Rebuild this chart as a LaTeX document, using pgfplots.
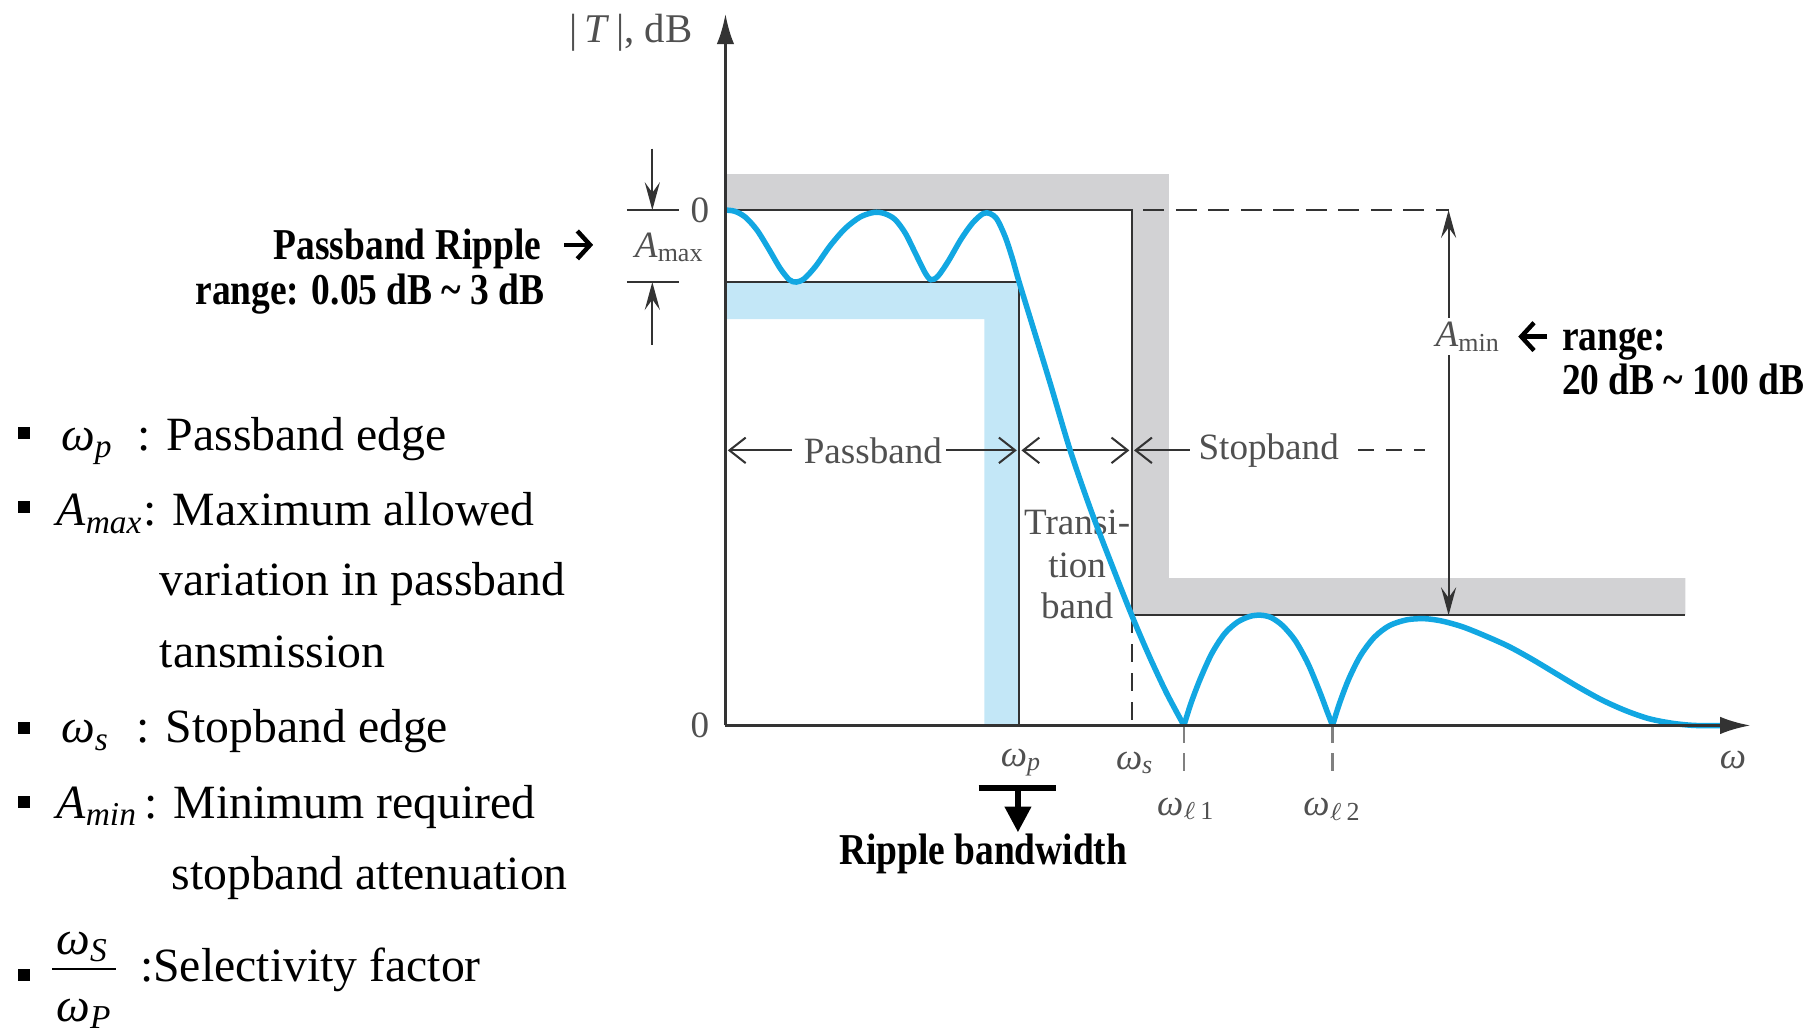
\documentclass[border=0pt]{standalone}
\usepackage{pgfplots}
\pgfplotsset{compat=1.18}
\usetikzlibrary{arrows.meta}
\usepackage{fontspec}
\setmainfont{Liberation Serif}
\newfontfamily\annfont[FakeStretch=0.85]{Liberation Serif}
\definecolor{curve}{HTML}{12A7E2}
\definecolor{bluebd}{HTML}{C3E7F7}
\definecolor{graybd}{HTML}{D2D2D4}
\definecolor{lab}{HTML}{505050}
\definecolor{ln}{HTML}{333333}
\newcommand{\body}{\fontsize{11.7pt}{14pt}\selectfont}
\newcommand{\ann}{\annfont\bfseries\fontsize{10.8pt}{13pt}\selectfont}
\newcommand{\lbl}{\color{lab}\fontsize{9.1pt}{11pt}\selectfont}
\begin{document}
\begin{tikzpicture}
\begin{axis}[name=main, scale only axis, width=156.8mm, height=89.2mm,
  xmin=0, xmax=1568, ymin=0, ymax=892, y dir=reverse, hide axis, clip=false]
% bands
\addplot[draw=none, fill=graybd] coordinates {(625,150) (1007,150) (1007,498) (1452,498) (1452,530) (975,530) (975,181) (625,181)};
\addplot[draw=none, fill=bluebd] coordinates {(625,243) (878,243) (878,625) (848,625) (848,275) (625,275)};
% spec lines
\addplot[ln, line width=0.5pt] coordinates {(625,181) (975,181) (975,530) (1452,530)};
\addplot[ln, line width=0.5pt] coordinates {(625,243) (878,243) (878,625)};
\addplot[ln, line width=0.5pt, dash pattern=on 1.8mm off 1mm] coordinates {(985,181) (1248,181)};
\addplot[ln, line width=0.5pt, dash pattern=on 1.5mm off 1mm] coordinates {(975,530) (975,625)};
\addplot[gray, line width=0.6pt, dash pattern=on 1.5mm off 0.9mm] coordinates {(1020,625) (1020,672)};
\addplot[gray, line width=0.6pt, dash pattern=on 1.5mm off 0.9mm] coordinates {(1148,625) (1148,672)};
% Amax dimension
\addplot[ln, line width=0.5pt] coordinates {(540,181) (585,181)};
\addplot[ln, line width=0.5pt] coordinates {(540,243) (585,243)};
\addplot[ln, line width=0.5pt, -{Stealth[length=2.4mm,width=1.3mm,inset=0.9mm]}] coordinates {(562,128) (562,181)};
\addplot[ln, line width=0.5pt, -{Stealth[length=2.4mm,width=1.3mm,inset=0.9mm]}] coordinates {(562,297) (562,243)};
% Amin dimension
\addplot[ln, line width=0.5pt, {Stealth[length=2.4mm,width=1.3mm,inset=0.9mm]}-{Stealth[length=2.4mm,width=1.3mm,inset=0.9mm]}] coordinates {(1248,181) (1248,530)};
% band arrows
\addplot[ln, line width=0.5pt, -{Straight Barb[length=1.4mm,width=2.2mm]}] coordinates {(682,388) (627,388)};
\addplot[ln, line width=0.5pt, -{Straight Barb[length=1.4mm,width=2.2mm]}] coordinates {(815,388) (876,388)};
\addplot[ln, line width=0.5pt, {Straight Barb[length=1.4mm,width=2.2mm]}-{Straight Barb[length=1.4mm,width=2.2mm]}] coordinates {(880,388) (973,388)};
\addplot[ln, line width=0.5pt, -{Straight Barb[length=1.4mm,width=2.2mm]}] coordinates {(1025,388) (977,388)};
\addplot[ln, line width=0.5pt, dash pattern=on 1.4mm off 1mm] coordinates {(1170,388) (1228,388)};
% diagram labels
\node[inner sep=0, anchor=base west] at (axis cs:490,37) {\lbl\fontsize{10pt}{12pt}\selectfont |\,\textit{T}\,|, dB};
\node[inner sep=0] at (axis cs:603,181) {\lbl 0};
\node[inner sep=0] at (axis cs:603,625) {\lbl 0};
\node[inner sep=0] at (axis cs:577,213) {\lbl\textit{A}\textsubscript{max}};
\node[inner sep=1pt, fill=white] at (axis cs:1265,290) {\lbl\textit{A}\textsubscript{min}};
\node[inner sep=1pt, fill=white] at (axis cs:752,388) {\lbl Passband};
\node[inner sep=1pt, fill=white] at (axis cs:1093,388) {\lbl Stopband};
\node[inner sep=0] at (axis cs:928,450) {\lbl Transi-};
\node[inner sep=0] at (axis cs:928,487) {\lbl tion};
\node[inner sep=0] at (axis cs:928,522) {\lbl band};
\node[inner sep=0] at (axis cs:880,657) {\lbl\textit{ω}\textsubscript{\textit{p}}};
\node[inner sep=0] at (axis cs:978,657) {\lbl\textit{ω}\textsubscript{\textit{s}}};
\node[inner sep=0] at (axis cs:1022,697) {\lbl\textit{ω}\textsubscript{$\ell$\,1}};
\node[inner sep=0] at (axis cs:1148,697) {\lbl\textit{ω}\textsubscript{$\ell$\,2}};
\node[inner sep=0] at (axis cs:1493,655) {\lbl\textit{ω}};
% response curve
\addplot[curve, line width=1.35pt, smooth, tension=0.5] coordinates {
(625,181) (633,182) (642,187) (652,198) (662,214) (672,231) (680,241) (686,243) (693,240) (703,229) (715,212) (728,197) (741,187) (753,183) (762,184) (771,189) (780,201) (789,219) (797,235) (802,241) (808,238) (817,225) (828,206) (838,192) (847,184) (853,184) (859,189) (866,204) (872,222) (878,243) (890,282) (905,331) (922,388) (940,440) (958,487) (975,530) (990,565) (1005,597) (1020,625)};
\addplot[curve, line width=1.35pt, smooth, tension=0.5] coordinates {
(1020,625) (1026,606) (1034,585) (1044,563) (1055,546) (1066,536) (1077,531) (1086,530) (1095,532) (1105,539) (1116,552) (1127,572) (1137,596) (1143,612) (1148,625)};
\addplot[curve, line width=1.35pt, smooth, tension=0.5] coordinates {
(1148,625) (1154,606) (1162,585) (1172,565) (1184,549) (1197,539) (1212,534) (1227,533) (1242,535) (1260,540) (1280,548) (1300,557) (1320,568) (1340,580) (1360,592) (1380,603) (1400,612) (1420,619) (1440,623) (1460,625) (1485,625)};
% axes
\addplot[ln, line width=0.7pt, -{Latex[length=2.6mm,width=1.5mm]}] coordinates {(625,625) (625,12)};
\addplot[ln, line width=0.7pt, -{Latex[length=2.6mm,width=1.5mm]}] coordinates {(625,625) (1508,625)};
% ripple bandwidth
\addplot[black, line width=1.3pt] coordinates {(843,679) (910,679)};
\addplot[black, line width=1.3pt, -{Triangle[length=2.2mm,width=2.2mm]}] coordinates {(877,679) (877,717)};
% bold annotations
\node[inner sep=0, anchor=base east] at (axis cs:467,224) {\ann Passband Ripple};
\addplot[black, line width=1.1pt, -{Straight Barb[length=1.1mm,width=2.4mm,line width=1.1pt]}] coordinates {(486,211) (511,211)};
\node[inner sep=0, anchor=base east] at (axis cs:470,262) {\ann range: 0.05 dB \textasciitilde{} 3 dB};
\addplot[black, line width=1.1pt, -{Straight Barb[length=1.1mm,width=2.4mm,line width=1.1pt]}] coordinates {(1333,290) (1308,290)};
\node[inner sep=0, anchor=base west] at (axis cs:1345,302) {\ann range:};
\node[inner sep=0, anchor=base west] at (axis cs:1345,340) {\ann 20 dB \textasciitilde{} 100 dB};
\node[inner sep=0, anchor=base] at (axis cs:847,745) {\ann Ripple bandwidth};
% left list
\node[inner sep=0, fill=black, minimum size=1.05mm] at (axis cs:21,373) {};
\node[inner sep=0, fill=black, minimum size=1.05mm] at (axis cs:21,437) {};
\node[inner sep=0, fill=black, minimum size=1.05mm] at (axis cs:21,627) {};
\node[inner sep=0, fill=black, minimum size=1.05mm] at (axis cs:21,691) {};
\node[inner sep=0, fill=black, minimum size=1.05mm] at (axis cs:21,840) {};
\node[inner sep=0, anchor=base west] at (axis cs:52,388) {\body\textit{ω}\textsubscript{\textit{p}}};
\node[inner sep=0, anchor=base west] at (axis cs:118,388) {\body : Passband edge};
\node[inner sep=0, anchor=base west] at (axis cs:48,453) {\body\textit{A}\textsubscript{\textit{max}}: Maximum allowed};
\node[inner sep=0, anchor=base west] at (axis cs:137,513) {\body variation in passband};
\node[inner sep=0, anchor=base west] at (axis cs:137,575) {\body tansmission};
\node[inner sep=0, anchor=base west] at (axis cs:52,640) {\body\textit{ω}\textsubscript{\textit{s}}};
\node[inner sep=0, anchor=base west] at (axis cs:117,640) {\body : Stopband edge};
\node[inner sep=0, anchor=base west] at (axis cs:48,705) {\body\textit{A}\textsubscript{\textit{min}}};
\node[inner sep=0, anchor=base west] at (axis cs:124,705) {\body : Minimum required};
\node[inner sep=0, anchor=base west] at (axis cs:147,766) {\body stopband attenuation};
\node[inner sep=0, anchor=base west] at (axis cs:48,822) {\body\textit{ω}\textsubscript{\textit{S}}};
\addplot[black, line width=0.5pt] coordinates {(45,835) (100,835)};
\node[inner sep=0, anchor=base west] at (axis cs:48,880) {\body\textit{ω}\textsubscript{\textit{P}}};
\node[inner sep=0, anchor=base west] at (axis cs:120,846) {\body :Selectivity factor};
\end{axis}
\pgfresetboundingbox
\path (main.south west) rectangle (main.north east);
\end{tikzpicture}
\end{document}
